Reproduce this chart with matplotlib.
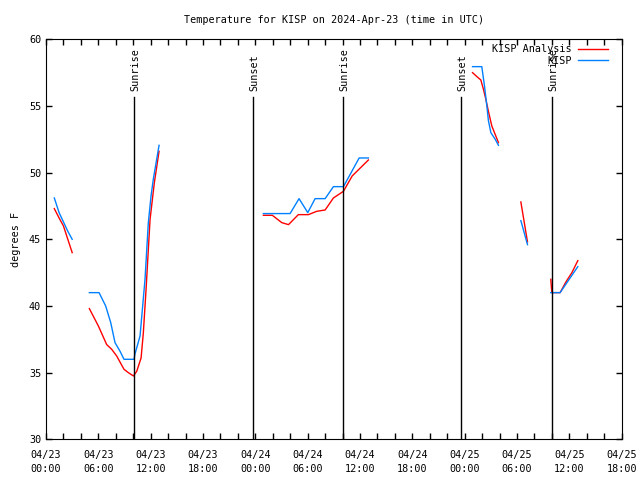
import matplotlib
matplotlib.use('Agg')
import numpy as np
import matplotlib.pyplot as plt

plt.rcParams.update({
    'font.family': 'DejaVu Sans Mono',
    'font.size': 7.3,
    'xtick.direction': 'in',
    'ytick.direction': 'in',
    'xtick.top': True,
    'ytick.right': True,
})

nan = np.nan

# hours since 2024-04-23 00:00 UTC; nan breaks the line
analysis_hours = [0.95, 1.5, 2.0, 2.5, 3.0, nan,
                  4.97, 6.0, 6.96, 7.53, 8.1, 8.94, 9.44, 10.02, 10.4, 10.9, 11.16, 11.47, 11.93, 12.42, 12.96, nan,
                  24.92, 25.95, 27.03, 27.8, 28.93, 30.08, 31.04, 32.0, 32.95, 34.1, 35.1, 36.96, nan,
                  48.9, 49.4, 49.85, 50.15, 50.46, 50.72, 51.11, 51.87, nan,
                  54.44, 55.2, nan,
                  57.87, 57.99, 58.94, 59.6, 60.29, 60.97]
analysis_temp = [47.3, 46.6, 46.0, 45.0, 44.0, nan,
                 39.8, 38.5, 37.1, 36.75, 36.25, 35.25, 35.0, 34.75, 35.1, 36.1, 38.0, 41.25, 46.5, 49.25, 51.6, nan,
                 46.8, 46.8, 46.25, 46.1, 46.85, 46.85, 47.1, 47.2, 48.1, 48.6, 49.75, 50.95, nan,
                 57.5, 57.2, 56.95, 56.25, 55.4, 54.6, 53.5, 52.25, nan,
                 47.8, 44.8, nan,
                 42.0, 41.0, 41.0, 41.8, 42.5, 43.4]

kisp_hours = [0.95, 1.5, 2.0, 2.5, 3.0, nan,
              4.97, 6.08, 6.84, 7.42, 7.91, 8.49, 8.94, 10.09, 10.2, 10.78, 11.35, 11.73, 12.04, 12.3, 12.96, nan,
              24.92, 27.98, 29.01, 30.01, 30.85, 32.0, 32.95, 34.1, 35.9, 36.96, nan,
              48.9, 49.96, 50.27, 50.54, 50.72, 51.0, 51.5, 51.87, nan,
              54.44, 55.2, nan,
              57.87, 58.94, 60.97]
kisp_temp = [48.1, 47.0, 46.3, 45.6, 45.0, nan,
             41.0, 41.0, 40.0, 38.75, 37.25, 36.6, 36.0, 36.0, 36.4, 37.75, 42.0, 46.25, 48.25, 49.5, 52.05, nan,
             46.93, 46.93, 48.05, 47.0, 48.05, 48.05, 48.95, 48.95, 51.1, 51.1, nan,
             57.95, 57.95, 56.5, 55.0, 53.9, 53.0, 52.5, 52.05, nan,
             46.4, 44.6, nan,
             41.0, 41.0, 42.95]

sun_hours = [10.13, 23.7, 34.03, 47.63, 58.06]
sun_labels = ['Sunrise', 'Sunset', 'Sunrise', 'Sunset', 'Sunrise']

tick_hours = list(range(0, 67, 6))
tick_labels = ['04/23\n00:00', '04/23\n06:00', '04/23\n12:00', '04/23\n18:00',
               '04/24\n00:00', '04/24\n06:00', '04/24\n12:00', '04/24\n18:00',
               '04/25\n00:00', '04/25\n06:00', '04/25\n12:00', '04/25\n18:00']

fig = plt.figure(figsize=(6.4, 4.8), dpi=100)
ax = fig.add_axes([0.0719, 0.0848, 0.8995, 0.8333])

ax.plot(analysis_hours, analysis_temp, color='#ff0000', lw=1, label='KISP Analysis')
ax.plot(kisp_hours, kisp_temp, color='#0080ff', lw=1, label='KISP')

for h, lab in zip(sun_hours, sun_labels):
    ax.axvline(h, ymin=0, ymax=0.855, color='black', lw=1)
    ax.text(h + 0.15, 0.87, lab, rotation=90, ha='center', va='bottom',
            transform=ax.get_xaxis_transform())

ax.set_xlim(0, 66)
ax.set_ylim(30, 60)
ax.set_xticks(tick_hours)
ax.set_xticklabels(tick_labels, linespacing=1.4)
ax.set_xticks(range(0, 67, 2), minor=True)
ax.set_yticks(range(30, 61, 5))
ax.tick_params(which='both', length=4, width=1)
ax.tick_params(axis='x', pad=8)

ax.set_title('Temperature for KISP on 2024-Apr-23 (time in UTC)', fontsize=7.3, pad=12)
ax.set_ylabel('degrees F', labelpad=6)

ax.legend(loc='upper right', bbox_to_anchor=(0.985, 1.0), frameon=False,
          markerfirst=False, handlelength=3, borderaxespad=0.1,
          labelspacing=0.15, handletextpad=0.6)

fig.savefig('out.png', dpi=100)
